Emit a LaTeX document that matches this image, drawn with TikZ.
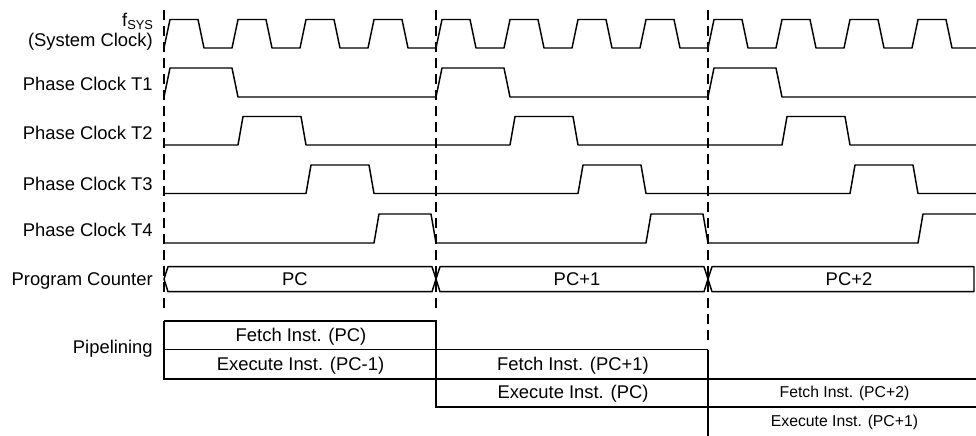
\documentclass[tikz,border=0pt]{standalone}
\usepackage{fontspec}
\setmainfont{Liberation Sans}
\usepackage{tikz}

\begin{document}
\begin{tikzpicture}[x=0.75pt,y=0.75pt,yscale=-1,
  wave/.style={line width=1.1pt, line join=round},
  guide/.style={line width=1.1pt, dash pattern=on 7.5pt off 4.5pt},
  pipe/.style={line width=1.3pt},
  lbl/.style={anchor=base east, inner sep=0pt, font=\fontsize{13.8}{16}\selectfont},
  txt/.style={anchor=base, inner sep=0pt, font=\fontsize{13.8}{16}\selectfont},
  smalltxt/.style={anchor=base, inner sep=0pt, font=\fontsize{11.8}{14}\selectfont}]
\useasboundingbox (0,0) rectangle (976,436); %set diagram size 976 x 436

%Straight Lines: cycle boundaries
\draw [guide] (164,10) -- (164,312) ;
\draw [guide] (436,10) -- (436,312) ;
\draw [guide] (708,10) -- (708,346) ;

%Shape: System clock
\draw [wave] (164,48) -- (170,19.5) -- (198,19.5) -- (204,48) -- (232,48) -- (238,19.5) -- (266,19.5) -- (272,48) -- (300,48) -- (306,19.5) -- (334,19.5) -- (340,48) -- (368,48) -- (374,19.5) -- (402,19.5) -- (408,48) -- (436,48) -- (442,19.5) -- (470,19.5) -- (476,48) -- (504,48) -- (510,19.5) -- (538,19.5) -- (544,48) -- (572,48) -- (578,19.5) -- (606,19.5) -- (612,48) -- (640,48) -- (646,19.5) -- (674,19.5) -- (680,48) -- (708,48) -- (714,19.5) -- (742,19.5) -- (748,48) -- (776,48) -- (782,19.5) -- (810,19.5) -- (816,48) -- (844,48) -- (850,19.5) -- (878,19.5) -- (884,48) -- (912,48) -- (918,19.5) -- (946,19.5) -- (952,48) -- (976,48) ;

%Shape: Phase clock T1
\draw [wave] (164,97) -- (170,68) -- (232,68) -- (238,97) -- (436,97) -- (442,68) -- (504,68) -- (510,97) -- (708,97) -- (714,68) -- (776,68) -- (782,97) -- (976,97) ;
%Shape: Phase clock T2
\draw [wave] (164,145) -- (238,145) -- (243,116.5) -- (301,116.5) -- (306,145) -- (510,145) -- (515,116.5) -- (573,116.5) -- (578,145) -- (782,145) -- (787,116.5) -- (845,116.5) -- (850,145) -- (976,145) ;
%Shape: Phase clock T3
\draw [wave] (164,193.5) -- (306,193.5) -- (311,165) -- (369,165) -- (374,193.5) -- (578,193.5) -- (583,165) -- (641,165) -- (646,193.5) -- (850,193.5) -- (855,165) -- (913,165) -- (918,193.5) -- (976,193.5) ;
%Shape: Phase clock T4
\draw [wave] (164,243) -- (374,243) -- (379,214) -- (431,214) -- (436,243) -- (646,243) -- (651,214) -- (703,214) -- (708,243) -- (918,243) -- (923,214) -- (976,214) ;

%Shape: Program counter bus
\draw [wave] (164,279) -- (168,266.7) -- (432,266.7) -- (436,279) -- (432,291.7) -- (168,291.7) -- cycle ;
\draw [wave] (436,279) -- (440,266.7) -- (704,266.7) -- (708,279) -- (704,291.7) -- (440,291.7) -- cycle ;
\draw [wave] (708,279) -- (712,266.7) -- (974,266.7) -- (974,291.7) -- (712,291.7) -- cycle ;

%Shape: Pipeline
\draw [pipe] (164,320.7) -- (436,320.7) -- (436,407.3) -- (976,407.3) ;
\draw [pipe] (164,320.7) -- (164,378.7) -- (976,378.7) ;
\draw [pipe] (164,349.5) -- (708,349.5) ;
\draw [pipe] (708,349.5) -- (708,436) ;

% Text Node
\node [lbl] (fsys) at (154,26.7) {f\textsubscript{SYS}};
% Text Node
\node [lbl] (sysclk) at (153,46.7) {(System Clock)};
% Text Node
\node [lbl] (t1) at (153,90.7) {Phase Clock T1};
% Text Node
\node [lbl] (t2) at (153,139.3) {Phase Clock T2};
% Text Node
\node [lbl] (t3) at (153,190) {Phase Clock T3};
% Text Node
\node [lbl] (t4) at (153,236.7) {Phase Clock T4};
% Text Node
\node [lbl] (pcnt) at (153,285) {Program Counter};
% Text Node
\node [lbl] (pipelbl) at (153,353.3) {Pipelining};
% Text Node
\node [txt] (pc0) at (295,285) {PC};
% Text Node
\node [txt] (pc1) at (577,285) {PC+1};
% Text Node
\node [txt] (pc2) at (849,285) {PC+2};
% Text Node
\node [txt] (fetch0) at (301,341.7) {Fetch Inst. (PC)};
% Text Node
\node [txt] (exec0) at (300.5,370) {Execute Inst. (PC-1)};
% Text Node
\node [txt] (fetch1) at (573,370) {Fetch Inst. (PC+1)};
% Text Node
\node [txt] (exec1) at (573,398.3) {Execute Inst. (PC)};
% Text Node
\node [smalltxt] (fetch2) at (844.5,397.5) {Fetch Inst. (PC+2)};
% Text Node
\node [smalltxt] (exec2) at (844.5,426) {Execute Inst. (PC+1)};

\end{tikzpicture}
\end{document}
